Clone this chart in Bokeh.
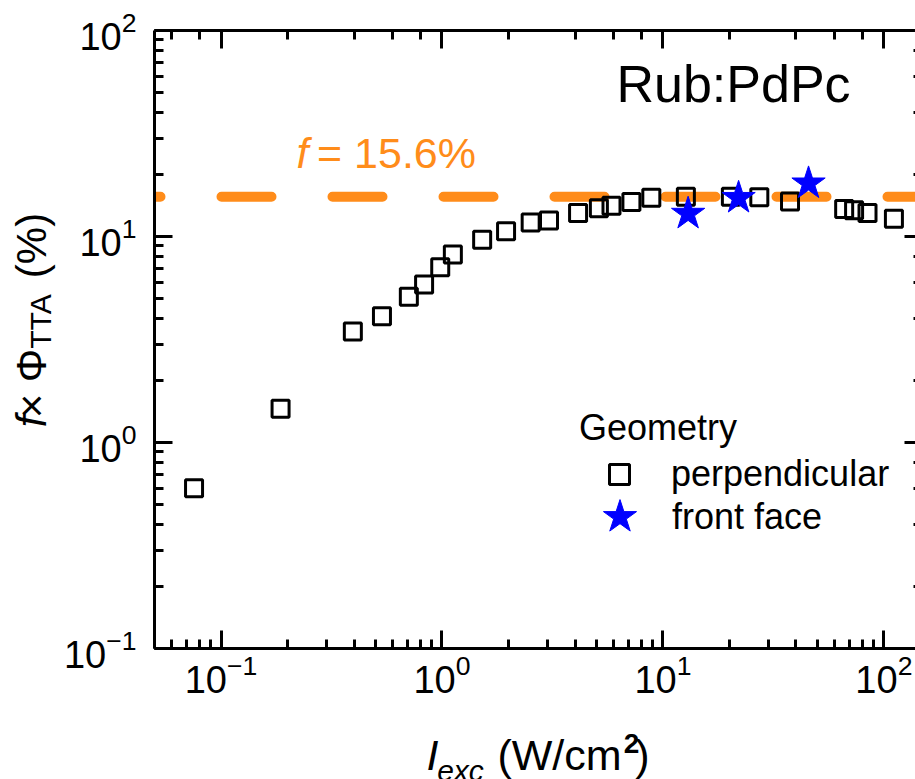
import math
from bokeh.plotting import figure
from bokeh.layouts import row, column
from bokeh.models import (LogAxis, Span, Label, Legend, LegendItem,
                          CustomJSTickFormatter, Range1d)
from bokeh.embed import file_html
from bokeh.resources import INLINE

# ---- data ----
perp_x = [0.0755, 0.186, 0.395, 0.535, 0.708, 0.830, 0.982, 1.12, 1.52, 1.95,
          2.52, 3.05, 4.13, 5.13, 5.85, 7.20, 8.86, 12.7, 20.3, 27.3,
          37.6, 66.1, 73.3, 84.3, 111]
perp_y = [0.60, 1.46, 3.46, 4.10, 5.10, 5.85, 7.10, 8.18, 9.64, 10.6,
          11.7, 11.96, 13.0, 13.7, 14.1, 14.7, 15.4, 15.6, 15.6, 15.5,
          14.8, 13.6, 13.4, 13.0, 12.2]
front_x = [13.0, 22.0, 45.6]
front_y = [12.9, 15.4, 18.1]
plateau = 15.6

FONT = "Liberation Sans"
ORANGE = "#FF8C1A"
BLUE = "#0000FF"
W, H = 915, 779
YW = 60          # width of the strip holding the y-axis title
XH = 49          # height of the strip holding the x-axis title
PW, PH = W - YW, H - XH
L, T = 152, 30   # frame left/top on the page
FB = 648         # frame bottom on the page

p = figure(width=PW, height=PH, x_axis_type="log", y_axis_type="log",
           x_range=(0.05, 139), y_range=(0.1, 100),
           output_backend="svg", toolbar_location=None,
           min_border_left=L - YW, min_border_right=0, min_border_top=T,
           min_border_bottom=PH - FB, outline_line_color=None,
           background_fill_color="white", border_fill_color="white")
p.grid.visible = False
blank = CustomJSTickFormatter(code="return ''")
p.add_layout(LogAxis(formatter=blank), "above")
p.add_layout(LogAxis(formatter=blank), "right")

for ax in p.axis:
    ax.axis_line_width = 3
    ax.axis_line_color = "black"
    ax.major_tick_line_width = 3
    ax.minor_tick_line_width = 3
    ax.major_tick_in = 18
    ax.major_tick_out = 0
    ax.minor_tick_in = 9
    ax.minor_tick_out = 0
    ax.major_label_text_font = FONT
    ax.major_label_text_font_size = "38px"
    ax.major_label_text_color = "black"

p.xaxis[0].major_label_standoff = 27
p.yaxis[0].major_label_standoff = 18
for ax in (p.above[0], p.right[0]):
    ax.major_label_standoff = 0
rax = p.right[0]
rax.axis_line_color = None
rax.major_tick_in = 11
rax.minor_tick_in = 2

span = Span(location=plateau, dimension="width", line_color=ORANGE,
            line_width=10, line_dash="50 61", line_dash_offset=44,
            line_cap="round", level="underlay")
p.add_layout(span)

sq = p.scatter(perp_x, perp_y, marker="square", size=17, fill_color=None,
               line_color="black", line_width=3)
st = p.scatter(front_x, front_y, marker="star", size=35, fill_color=BLUE,
               line_color=BLUE, line_width=1)


def strip(w, h):
    f = figure(width=w, height=h, x_range=Range1d(0, w), y_range=Range1d(0, h),
               output_backend="svg", toolbar_location=None,
               min_border=0, min_border_left=0, min_border_right=0,
               min_border_top=0, min_border_bottom=0, outline_line_color=None,
               x_axis_location=None, y_axis_location=None,
               background_fill_color="white", border_fill_color="white")
    f.grid.visible = False
    return f


yfig = strip(YW, PH)
xfig = strip(W, XH)


def put(fig, left, bottom, text, X, Y, size, style="normal", angle=0.0,
        color="black"):
    """Place a text centred on page pixel (X, Y)."""
    fig.add_layout(Label(x=X - left, y=bottom - Y, x_units="screen",
                         y_units="screen", text=text, text_font=FONT,
                         text_font_size=f"{size}px", text_font_style=style,
                         text_color=color, angle=angle, text_align="center",
                         text_baseline="middle", anchor="center"))


put(p, L, FB, "Rub:PdPc", 731, 83, 52)
put(p, L, FB, "f", 300, 152, 43, "italic", color=ORANGE)
put(p, L, FB, "= 15.6%", 394, 152, 43, color=ORANGE)

# the y strip's frame lines up with the main frame (page y 30..648)
R = math.pi / 2
put(yfig, 0, FB, "f", 31, 421, 42, "italic", R)
put(yfig, 0, FB, "\u00d7 \u03a6", 31, 383, 42, "normal", R)
put(yfig, 0, FB, "TTA", 40, 321, 30, "normal", R)
put(yfig, 0, FB, "(%)", 31, 245, 42, "normal", R)

put(xfig, 0, H, "I", 432, 754, 43, "italic")
put(xfig, 0, H, "exc", 460, 770, 30, "italic")
put(xfig, 0, H, "(W/cm", 559, 754, 43)
put(xfig, 0, H, "2", 631, 743, 28, "bold")
put(xfig, 0, H, ")", 642, 754, 43)

legA = Legend(items=[LegendItem(label="perpendicular", renderers=[sq])],
              location=(425, 149), title="Geometry",
              title_text_font=FONT, title_text_font_size="36px",
              title_text_font_style="normal", title_text_color="black",
              title_standoff=0,
              label_text_font=FONT, label_text_font_size="36px",
              label_text_color="black",
              glyph_width=80, glyph_height=50, label_standoff=12,
              padding=0, margin=0, border_line_color=None,
              background_fill_alpha=0)
legB = Legend(items=[LegendItem(label="front face", renderers=[st])],
              location=(422, 88),
              label_text_font=FONT, label_text_font_size="36px",
              label_text_color="black",
              glyph_width=87, glyph_height=87, label_standoff=9,
              padding=0, margin=0, border_line_color=None,
              background_fill_alpha=0)
p.add_layout(legA)
p.add_layout(legB)

layout = column(row(yfig, p, spacing=0), xfig, spacing=0)
open("out.html", "w").write(file_html(layout, INLINE))
